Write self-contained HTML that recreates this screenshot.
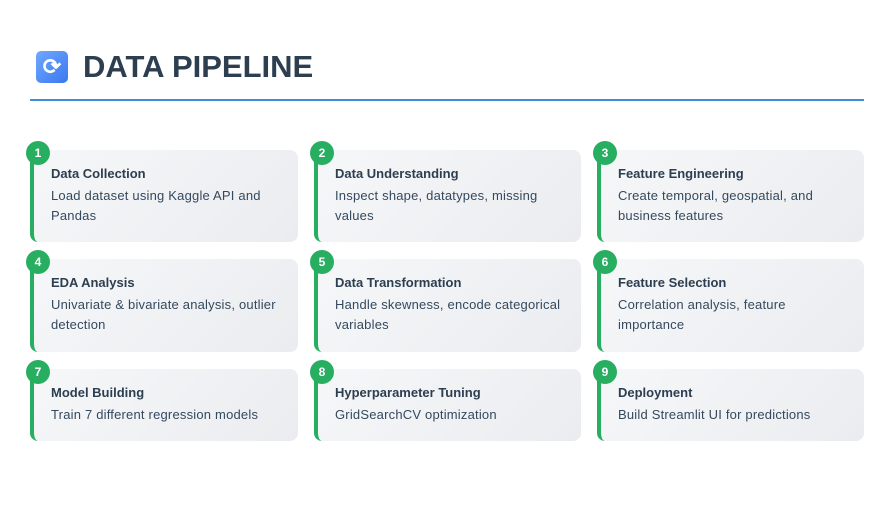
<!DOCTYPE html>
<html><head><style>
body{margin:0;width:891px;height:526px;background:#fff;font-family:"Liberation Sans",sans-serif;position:relative;overflow:hidden}
.icon{position:absolute;left:36px;top:51px;width:32px;height:32px;border-radius:5px;background:linear-gradient(135deg,#6fa8ff,#3a78f0);color:#fff;font-size:22px;font-weight:bold;text-align:center;line-height:32px}
h1{position:absolute;left:83px;top:47px;margin:0;font-size:31px;font-weight:bold;color:#2c3e50;line-height:40px}
.line{position:absolute;left:30px;top:99px;width:834px;height:2px;background:#3a8fd6}
.card{position:absolute;box-sizing:border-box;border-left:4px solid #27ae60;border-radius:8px;background:linear-gradient(135deg,#f6f7f9,#eaecef);padding:12px 4px 0 17px;color:#2c3e50}
.card b{display:block;font-size:13px;line-height:24px}
.card p{margin:0;font-size:13px;line-height:20px;color:#34495e;letter-spacing:0.2px;white-space:nowrap}
.n{position:absolute;left:-8px;top:-9px;width:24px;height:24px;border-radius:50%;background:#27ae60;color:#fff;font-size:12px;font-weight:bold;text-align:center;line-height:24px}
</style></head><body>
<div class="icon">⟳</div>
<h1>DATA PIPELINE</h1>
<div class="line"></div>

<div class="card" style="left:30px;top:150px;width:268px;height:92px"><div class="n">1</div><b>Data Collection</b><p>Load dataset using Kaggle API and<br>Pandas</p></div>
<div class="card" style="left:314px;top:150px;width:267px;height:92px"><div class="n">2</div><b>Data Understanding</b><p>Inspect shape, datatypes, missing<br>values</p></div>
<div class="card" style="left:597px;top:150px;width:267px;height:92px"><div class="n">3</div><b>Feature Engineering</b><p>Create temporal, geospatial, and<br>business features</p></div>

<div class="card" style="left:30px;top:259px;width:268px;height:93px"><div class="n">4</div><b>EDA Analysis</b><p>Univariate &amp; bivariate analysis, outlier<br>detection</p></div>
<div class="card" style="left:314px;top:259px;width:267px;height:93px"><div class="n">5</div><b>Data Transformation</b><p>Handle skewness, encode categorical<br>variables</p></div>
<div class="card" style="left:597px;top:259px;width:267px;height:93px"><div class="n">6</div><b>Feature Selection</b><p>Correlation analysis, feature<br>importance</p></div>

<div class="card" style="left:30px;top:369px;width:268px;height:72px"><div class="n">7</div><b>Model Building</b><p>Train 7 different regression models</p></div>
<div class="card" style="left:314px;top:369px;width:267px;height:72px"><div class="n">8</div><b>Hyperparameter Tuning</b><p>GridSearchCV optimization</p></div>
<div class="card" style="left:597px;top:369px;width:267px;height:72px"><div class="n">9</div><b>Deployment</b><p>Build Streamlit UI for predictions</p></div>
</body></html>
